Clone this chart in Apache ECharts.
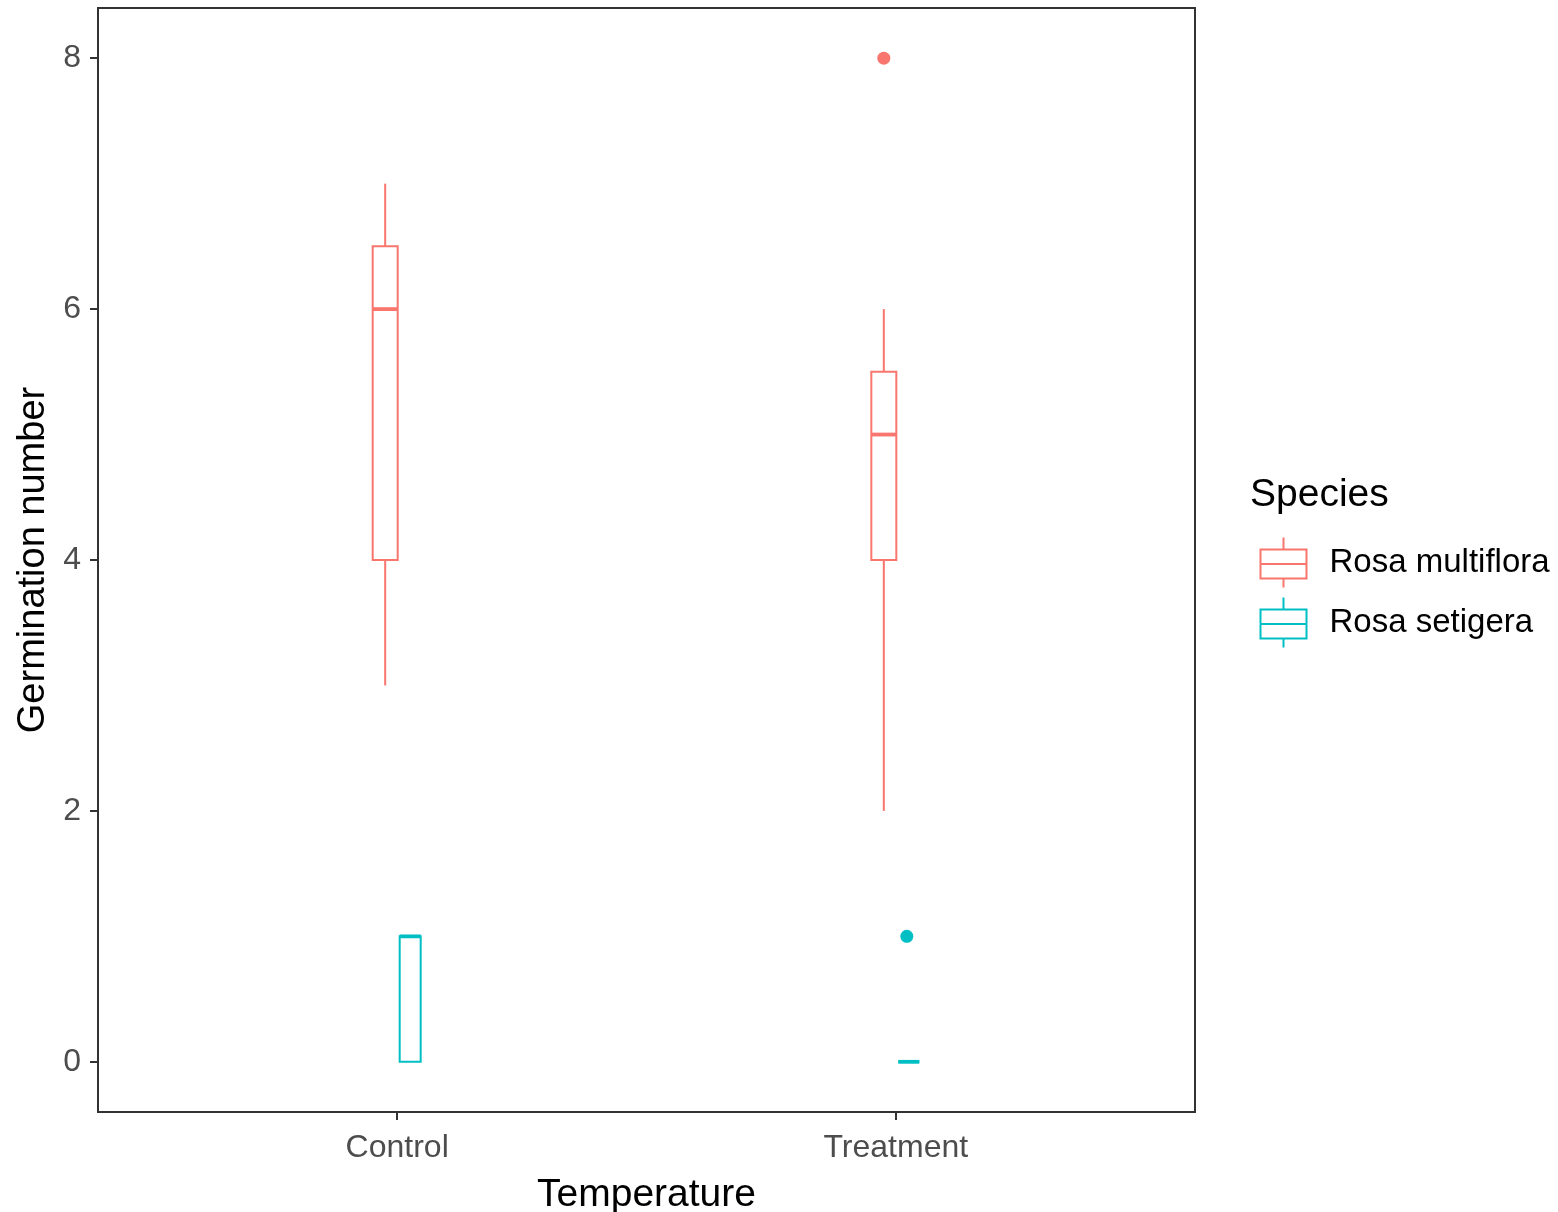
<!DOCTYPE html>
<html>
<head>
<meta charset="utf-8">
<title>Germination number</title>
<script src="https://cdn.jsdelivr.net/npm/echarts@6/dist/echarts.min.js"></script>
<style>
html, body { margin: 0; padding: 0; background: #fff; }
#chart { width: 1558px; height: 1212px; }
</style>
</head>
<body>
<div id="chart"></div>
<script>
// data
const categories = ['Control', 'Treatment'];
const species = ['Rosa multiflora', 'Rosa setigera'];
const colors = ['#F8766D', '#00BFC4'];
// [min, Q1, median, Q3, max] per category
const multifloraBox = [[3, 4, 6, 6.5, 7], [2, 4, 5, 5.5, 6]];
const setigeraBox = [[0, 0, 1, 1, 1], [0, 0, 0, 0, 0]];
// [category, value]
const multifloraOutliers = [['Treatment', 8]];
const setigeraOutliers = [['Treatment', 1]];
const yTicks = [0, 2, 4, 6, 8];

const FONT = '"Liberation Sans", Arial, sans-serif';

// dodge offsets and box widths in px
const dodge = [-12, 13];
const boxW = [25, 21];

function boxData(rows) {
    return rows.map((r, i) => [i + 1].concat(r));
}
function pointData(rows) {
    return rows.map(r => [categories.indexOf(r[0]) + 1, r[1]]);
}

function makeRender(idx) {
    const color = colors[idx];
    return function (params, api) {
        const x = api.value(0);
        const pMin = api.coord([x, api.value(1)]);
        const pQ1 = api.coord([x, api.value(2)]);
        const pMed = api.coord([x, api.value(3)]);
        const pQ3 = api.coord([x, api.value(4)]);
        const pMax = api.coord([x, api.value(5)]);
        const cx = pMin[0] + dodge[idx];
        const half = boxW[idx] / 2;
        return {
            type: 'group',
            children: [
                { type: 'line', shape: { x1: cx, y1: pMax[1], x2: cx, y2: pQ3[1] },
                  style: { stroke: color, lineWidth: 2 } },
                { type: 'line', shape: { x1: cx, y1: pQ1[1], x2: cx, y2: pMin[1] },
                  style: { stroke: color, lineWidth: 2 } },
                { type: 'rect', shape: { x: cx - half, y: pQ3[1], width: half * 2, height: pQ1[1] - pQ3[1] },
                  style: { fill: '#fff', stroke: color, lineWidth: 2 } },
                { type: 'line', shape: { x1: cx - half, y1: pMed[1], x2: cx + half, y2: pMed[1] },
                  style: { stroke: color, lineWidth: 3.8 } }
            ]
        };
    };
}

const legendIcon = 'path://M0,0L0,12M-23,12L23,12L23,41L-23,41ZM-23,26.5L23,26.5M0,41L0,50';

const myChart = echarts.init(document.getElementById('chart'));
const option = {
    backgroundColor: '#fff',
    animation: false,
    title: {
        text: 'Species',
        left: 1250,
        top: 476,
        padding: 0,
        textStyle: { fontFamily: FONT, fontSize: 39, fontWeight: 'normal', color: '#000' }
    },
    legend: {
        orient: 'vertical',
        left: 1258,
        top: 535,
        padding: 0,
        itemWidth: 46,
        itemHeight: 50,
        itemGap: 5,
        selectedMode: false,
        textStyle: { fontFamily: FONT, fontSize: 33, color: '#000', padding: [0, 0, 0, 18] },
        data: species.map((s, i) => ({
            name: s,
            icon: legendIcon,
            itemStyle: { color: 'none', borderColor: colors[i], borderWidth: 2 }
        }))
    },
    grid: {
        left: 98, top: 8, right: 363, bottom: 100,
        outerBoundsMode: 'none',
        show: true, borderColor: '#333', borderWidth: 2, backgroundColor: '#fff'
    },
    xAxis: {
        type: 'value',
        min: 0.4,
        max: 2.6,
        name: 'Temperature',
        nameLocation: 'middle',
        nameGap: 64,
        nameTextStyle: { fontFamily: FONT, fontSize: 39, color: '#000' },
        axisLine: { show: false, onZero: false },
        splitLine: { show: false },
        axisTick: { show: true, length: 8, customValues: [1, 2], lineStyle: { color: '#333', width: 2 } },
        axisLabel: {
            customValues: [1, 2],
            formatter: v => categories[Math.round(v) - 1],
            margin: 20,
            fontFamily: FONT, fontSize: 32, color: '#4D4D4D'
        }
    },
    yAxis: {
        type: 'value',
        min: -0.4,
        max: 8.4,
        name: 'Germination number',
        nameLocation: 'middle',
        nameGap: 42,
        nameTextStyle: { fontFamily: FONT, fontSize: 38, color: '#000' },
        axisLine: { show: false, onZero: false },
        splitLine: { show: false },
        axisTick: { show: true, length: 8, customValues: yTicks, lineStyle: { color: '#333', width: 2 } },
        axisLabel: {
            customValues: yTicks,
            margin: 17,
            fontFamily: FONT, fontSize: 32, color: '#4D4D4D'
        }
    },
    series: [
        {
            name: species[0],
            type: 'custom',
            renderItem: makeRender(0),
            itemStyle: { color: colors[0] },
            encode: { x: 0, y: [1, 2, 3, 4, 5] },
            data: boxData(multifloraBox)
        },
        {
            name: species[1],
            type: 'custom',
            renderItem: makeRender(1),
            itemStyle: { color: colors[1] },
            encode: { x: 0, y: [1, 2, 3, 4, 5] },
            data: boxData(setigeraBox)
        },
        {
            name: species[0],
            type: 'scatter',
            symbolSize: 13,
            symbolOffset: [dodge[0], 0],
            itemStyle: { color: colors[0], opacity: 1 },
            data: pointData(multifloraOutliers)
        },
        {
            name: species[1],
            type: 'scatter',
            symbolSize: 13,
            symbolOffset: [dodge[1] - 2, 0],
            itemStyle: { color: colors[1], opacity: 1 },
            data: pointData(setigeraOutliers)
        }
    ]
};
myChart.setOption(option);
</script>
</body>
</html>
